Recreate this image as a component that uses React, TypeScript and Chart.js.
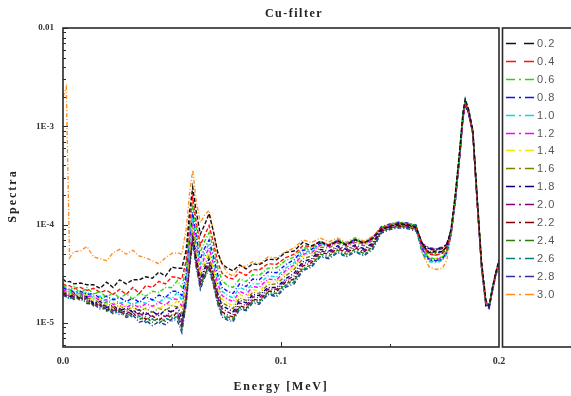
import React, { useEffect, useRef } from 'react';
import { Chart, registerables } from 'chart.js';

Chart.register(...registerables);

// ---- data (spectra values in units of 1E-5) ----
const UNIT = 1e-5;

const ENERGY = [
  0, 0.0015, 0.003, 0.005, 0.008, 0.011, 0.014, 0.017, 0.02, 0.023,
  0.026, 0.029, 0.032, 0.035, 0.038, 0.041, 0.044, 0.047, 0.05, 0.0525,
  0.0545, 0.0565, 0.058, 0.0595, 0.061, 0.063, 0.065, 0.067, 0.069, 0.071,
  0.073, 0.0755, 0.078, 0.081, 0.084, 0.087, 0.09, 0.094, 0.098, 0.102,
  0.106, 0.11, 0.114, 0.118, 0.122, 0.126, 0.13, 0.134, 0.138, 0.142,
  0.146, 0.15, 0.154, 0.158, 0.162, 0.165, 0.168, 0.171, 0.174, 0.176,
  0.178, 0.18, 0.182, 0.1835, 0.1845, 0.186, 0.188, 0.19, 0.192, 0.194,
  0.1955, 0.197, 0.1985, 0.2,
];

const S02 = [
  2.8, 2.6, 2.65, 2.5, 2.55, 2.45, 2.45, 2.25, 2.6, 2.3,
  2.75, 2.5, 2.75, 2.75, 2.95, 2.85, 3.3, 3.0, 3.7, 3.6,
  3.6, 5.5, 13, 24, 14, 8.0, 10, 13, 8.5, 5.2,
  4.0, 3.6, 3.4, 3.9, 3.55, 4.0, 3.9, 4.45, 4.4, 5.2,
  5.4, 6.6, 6.1, 6.7, 6.1, 6.8, 6.2, 7.0, 6.5, 7.2,
  9.0, 9.6, 10.2, 10.0, 9.4, 6.2, 5.2, 5.4, 5.3, 6.0,
  9.0, 21, 58, 140, 190, 150, 92, 19, 4.2, 1.7,
  1.5, 2.3, 3.2, 4.4,
];
const S04 = [
  2.5, 2.4, 2.4, 2.25, 2.3, 2.15, 2.25, 2.05, 2.15, 1.95,
  2.2, 1.95, 2.3, 2.0, 2.4, 2.3, 2.65, 2.5, 2.95, 2.9,
  2.8, 4.3, 10, 19, 11, 6.2, 7.8, 9.8, 6.6, 4.1,
  3.2, 2.9, 2.8, 3.3, 3.05, 3.5, 3.45, 4.0, 3.95, 4.6,
  5.0, 6.1, 6.0, 6.8, 6.2, 6.9, 6.3, 7.1, 6.5, 7.4,
  9.2, 9.9, 10.4, 10.1, 9.6, 6.0, 5.0, 4.9, 5.1, 5.6,
  8.5, 20, 55, 130, 175, 145, 88, 18, 4.0, 1.6,
  1.5, 2.2, 3.3, 4.2,
];
const S06 = [
  2.4, 2.3, 2.1, 2.35, 2.0, 2.3, 1.95, 2.1, 1.8, 2.05,
  1.78, 1.98, 1.75, 2.0, 1.88, 2.1, 2.05, 2.3, 2.3, 2.7,
  2.3, 3.7, 8.5, 16, 9.5, 5.3, 6.8, 8.3, 5.7, 3.6,
  2.7, 2.4, 2.3, 2.8, 2.65, 3.1, 3.05, 3.6, 3.65, 4.3,
  4.7, 5.8, 5.8, 6.7, 6.3, 7.0, 6.4, 7.2, 6.6, 7.5,
  9.4, 10.1, 10.5, 10.3, 9.8, 5.8, 4.6, 4.5, 4.7, 5.4,
  8.2, 19, 56, 135, 180, 148, 90, 18, 3.9, 1.6,
  1.5, 2.3, 3.1, 4.1,
];
const S08 = [
  2.3, 2.2, 2.2, 2.05, 2.1, 1.95, 2.0, 1.78, 1.88, 1.72,
  1.82, 1.65, 1.8, 1.62, 1.85, 1.72, 1.92, 1.82, 2.1, 2.1,
  1.9, 3.1, 7.2, 13.5, 8.0, 4.5, 5.8, 7.0, 4.8, 3.1,
  2.3, 2.1, 2.0, 2.5, 2.35, 2.8, 2.75, 3.3, 3.25, 3.9,
  4.4, 5.5, 5.6, 6.5, 6.2, 6.9, 6.3, 7.1, 6.5, 7.3,
  9.5, 10.2, 10.6, 10.4, 9.9, 5.6, 4.4, 4.3, 4.5, 5.2,
  8.0, 19, 52, 128, 170, 140, 86, 17, 3.8, 1.6,
  1.45, 2.2, 3.2, 4.0,
];
const S10 = [
  2.3, 2.2, 2.0, 2.2, 1.9, 2.08, 1.78, 1.88, 1.64, 1.78,
  1.58, 1.68, 1.52, 1.67, 1.58, 1.72, 1.62, 1.82, 1.78, 2.05,
  1.7, 2.8, 6.4, 12, 7.0, 4.0, 5.2, 6.4, 4.4, 2.8,
  2.1, 1.9, 1.8, 2.3, 2.15, 2.5, 2.5, 3.0, 2.95, 3.6,
  4.1, 5.2, 5.4, 6.4, 6.2, 7.0, 6.4, 7.2, 6.6, 7.4,
  9.3, 10.0, 10.4, 10.2, 9.7, 5.4, 4.2, 4.1, 4.3, 5.0,
  8.4, 20, 57, 140, 185, 150, 91, 19, 4.0, 1.7,
  1.5, 2.3, 3.3, 4.3,
];
const S12 = [
  2.2, 2.1, 2.1, 1.95, 2.02, 1.86, 1.88, 1.68, 1.72, 1.54,
  1.62, 1.44, 1.56, 1.43, 1.57, 1.48, 1.62, 1.52, 1.76, 1.74,
  1.5, 2.5, 5.8, 11, 6.4, 3.6, 4.7, 5.8, 4.0, 2.5,
  1.9, 1.75, 1.65, 2.1, 1.95, 2.35, 2.3, 2.8, 2.75, 3.4,
  3.9, 5.0, 5.2, 6.2, 6.0, 6.7, 6.1, 6.8, 6.3, 7.1,
  9.2, 9.9, 10.3, 10.1, 9.6, 5.5, 4.5, 4.4, 4.6, 5.3,
  8.0, 18, 52, 125, 168, 140, 85, 17, 3.8, 1.6,
  1.5, 2.2, 3.1, 4.1,
];
const S14 = [
  2.2, 2.1, 1.92, 2.08, 1.82, 1.98, 1.68, 1.77, 1.53, 1.62,
  1.44, 1.52, 1.39, 1.51, 1.36, 1.5, 1.39, 1.56, 1.49, 1.7,
  1.4, 2.3, 5.3, 10, 5.8, 3.3, 4.3, 5.3, 3.6, 2.3,
  1.75, 1.6, 1.5, 1.95, 1.82, 2.2, 2.1, 2.6, 2.65, 3.2,
  3.7, 4.8, 5.1, 6.2, 6.1, 6.8, 6.2, 6.9, 6.4, 7.2,
  9.4, 10.1, 10.5, 10.3, 9.8, 5.6, 4.6, 4.5, 4.7, 5.4,
  8.3, 19, 54, 132, 178, 146, 88, 18, 3.9, 1.6,
  1.5, 2.3, 3.2, 4.2,
];
const S16 = [
  2.1, 2.0, 2.02, 1.92, 1.97, 1.78, 1.77, 1.58, 1.61, 1.44,
  1.51, 1.34, 1.46, 1.32, 1.41, 1.29, 1.41, 1.34, 1.5, 1.45,
  1.25, 2.1, 4.8, 9.0, 5.2, 3.0, 3.9, 4.8, 3.3, 2.1,
  1.6, 1.5, 1.4, 1.8, 1.7, 2.05, 2.0, 2.45, 2.5, 3.0,
  3.5, 4.5, 4.8, 5.9, 5.8, 6.5, 5.9, 6.6, 6.1, 6.9,
  9.1, 9.8, 10.2, 10.0, 9.5, 5.8, 5.0, 4.9, 5.1, 5.7,
  8.1, 18, 53, 128, 172, 142, 86, 17, 3.8, 1.6,
  1.45, 2.2, 3.2, 4.1,
];
const S18 = [
  2.1, 2.0, 1.84, 2.02, 1.78, 1.87, 1.59, 1.66, 1.44, 1.51,
  1.34, 1.41, 1.29, 1.36, 1.22, 1.31, 1.19, 1.36, 1.29, 1.45,
  1.1, 1.95, 4.5, 8.5, 4.9, 2.8, 3.6, 4.5, 3.1, 2.0,
  1.5, 1.4, 1.3, 1.7, 1.6, 1.95, 1.9, 2.3, 2.3, 2.8,
  3.2, 4.2, 4.5, 5.6, 5.4, 6.1, 5.6, 6.2, 5.7, 6.5,
  8.9, 9.6, 10.0, 9.8, 9.3, 6.3, 5.7, 5.6, 5.8, 6.3,
  8.6, 18, 50, 122, 165, 137, 84, 17, 3.7, 1.5,
  1.45, 2.2, 3.1, 4.0,
];
const S20 = [
  2.0, 1.95, 1.96, 1.83, 1.92, 1.68, 1.66, 1.49, 1.51, 1.34,
  1.41, 1.24, 1.36, 1.19, 1.28, 1.14, 1.26, 1.16, 1.33, 1.25,
  1.0, 1.85, 4.2, 8.0, 4.6, 2.6, 3.4, 4.2, 2.9, 1.85,
  1.4, 1.3, 1.22, 1.6, 1.5, 1.85, 1.8, 2.2, 2.2, 2.7,
  3.0, 4.0, 4.3, 5.4, 5.2, 5.9, 5.4, 6.0, 5.5, 6.3,
  8.8, 9.5, 9.9, 9.7, 9.2, 6.4, 5.8, 5.7, 5.9, 6.4,
  8.7, 19, 53, 130, 175, 144, 87, 17, 3.8, 1.6,
  1.5, 2.2, 3.2, 4.1,
];
const S22 = [
  2.0, 1.9, 1.79, 1.97, 1.73, 1.82, 1.53, 1.56, 1.36, 1.44,
  1.26, 1.34, 1.2, 1.26, 1.09, 1.18, 1.06, 1.21, 1.14, 1.3,
  0.95, 1.75, 4.0, 7.5, 4.3, 2.5, 3.2, 3.9, 2.7, 1.75,
  1.3, 1.2, 1.15, 1.5, 1.42, 1.75, 1.7, 2.1, 2.1, 2.6,
  2.8, 3.8, 4.1, 5.2, 5.0, 5.7, 5.2, 5.8, 5.3, 6.1,
  8.6, 9.3, 9.7, 9.5, 9.0, 6.2, 5.6, 5.5, 5.7, 6.2,
  8.5, 18, 51, 125, 168, 139, 85, 17, 3.7, 1.5,
  1.45, 2.2, 3.1, 4.0,
];
const S24 = [
  1.95, 1.9, 1.92, 1.78, 1.87, 1.63, 1.61, 1.44, 1.46, 1.29,
  1.36, 1.19, 1.28, 1.09, 1.16, 1.02, 1.13, 1.04, 1.21, 1.15,
  0.9, 1.7, 3.8, 7.2, 4.1, 2.4, 3.1, 3.8, 2.6, 1.7,
  1.25, 1.15, 1.1, 1.45, 1.4, 1.7, 1.65, 2.05, 2.0, 2.5,
  2.7, 3.6, 3.9, 5.0, 4.8, 5.5, 5.0, 5.6, 5.1, 5.9,
  8.5, 9.2, 9.6, 9.4, 8.9, 5.9, 5.3, 5.2, 5.4, 6.0,
  8.4, 19, 55, 135, 182, 148, 89, 18, 3.9, 1.6,
  1.5, 2.3, 3.2, 4.2,
];
const S26 = [
  1.95, 1.85, 1.74, 1.92, 1.68, 1.77, 1.49, 1.51, 1.32, 1.38,
  1.21, 1.28, 1.14, 1.18, 1.01, 1.1, 0.99, 1.12, 1.05, 1.2,
  0.85, 1.6, 3.7, 7.0, 4.0, 2.3, 3.0, 3.7, 2.5, 1.6,
  1.2, 1.1, 1.07, 1.42, 1.36, 1.65, 1.6, 2.0, 1.9, 2.4,
  2.6, 3.5, 3.8, 4.8, 4.6, 5.3, 4.8, 5.4, 4.9, 5.7,
  8.4, 9.1, 9.5, 9.3, 8.8, 5.0, 4.3, 4.2, 4.4, 5.1,
  8.0, 18, 52, 128, 170, 140, 86, 17, 3.8, 1.6,
  1.45, 2.2, 3.1, 4.0,
];
const S28 = [
  1.9, 1.85, 1.86, 1.73, 1.82, 1.58, 1.56, 1.39, 1.41, 1.24,
  1.31, 1.14, 1.21, 1.02, 1.07, 0.94, 1.03, 0.96, 1.1, 1.05,
  0.8, 1.55, 3.5, 6.6, 3.8, 2.2, 2.9, 3.5, 2.4, 1.55,
  1.15, 1.07, 1.03, 1.38, 1.33, 1.6, 1.55, 1.95, 1.85, 2.3,
  2.5, 3.4, 3.7, 4.7, 4.5, 5.2, 4.7, 5.3, 4.8, 5.6,
  8.2, 8.9, 9.3, 9.1, 8.6, 5.8, 5.2, 5.1, 5.3, 5.9,
  8.1, 17, 50, 122, 165, 137, 84, 17, 3.7, 1.5,
  1.4, 2.1, 3.0, 3.9,
];
const S30 = [
  200, 250, 4.6, 5.3, 5.4, 6.0, 4.7, 4.5, 4.3, 5.2,
  5.6, 5.0, 5.5, 4.8, 4.6, 4.3, 4.0, 4.6, 5.1, 5.2,
  5.0, 9.0, 20, 36, 18, 10.5, 12.5, 14, 8.5, 5.0,
  4.0, 3.2, 3.0, 3.7, 3.8, 4.2, 4.0, 4.7, 4.6, 5.3,
  5.8, 7.0, 6.6, 7.3, 6.7, 7.3, 6.6, 7.4, 6.8, 7.6,
  9.2, 9.8, 10.1, 9.9, 9.3, 5.0, 3.7, 3.5, 3.6, 4.3,
  7.8, 18, 52, 128, 170, 142, 86, 17, 3.8, 1.6,
  1.5, 2.2, 3.2, 4.1,
];

const SERIES = [S02, S04, S06, S08, S10, S12, S14, S16, S18, S20, S22, S24, S26, S28, S30];
const SERIES_LABELS = ['0.2', '0.4', '0.6', '0.8', '1.0', '1.2', '1.4', '1.6', '1.8', '2.0', '2.2', '2.4', '2.6', '2.8', '3.0'];
const SERIES_COLORS = [
  '#111111', '#ff1010', '#20dd00', '#1010ff', '#00dddd', '#ff00ff', '#f0e800', '#808000',
  '#000080', '#800080', '#800000', '#2d7a10', '#008080', '#3030a0', '#ff9020',
];
const DASHED = ['0.2', '0.4'];

const Y_TICK_LABELS: Record<string, string> = { '-2': '0.01', '-3': '1E-3', '-4': '1E-4', '-5': '1E-5' };
const X_TICK_LABELS = ['0.0', '0.1', '0.2'];
const TITLE = 'Cu-filter';
const X_TITLE = 'Energy [MeV]';
const Y_TITLE = 'Spectra';

const SERIF = '"Liberation Serif", "DejaVu Serif", serif';
const SANS = '"Liberation Sans", Arial, sans-serif';

const decorPlugin = {
  id: 'decor',
  afterDraw(chart: any) {
    const { ctx, chartArea } = chart;
    const { left, right, top, bottom } = chartArea;
    const xs = chart.scales.x;
    const ys = chart.scales.y;
    ctx.save();

    // frame
    ctx.strokeStyle = '#2a2a2a';
    ctx.lineWidth = 1.6;
    ctx.setLineDash([]);
    ctx.strokeRect(left, top, right - left, bottom - top);

    // y ticks (inward)
    ctx.lineWidth = 1;
    ctx.beginPath();
    for (let d = -6; d <= -2; d++) {
      for (let m = 1; m <= 9; m++) {
        const v = m * Math.pow(10, d);
        if (v < ys.min * 0.999 || v > ys.max * 1.001) continue;
        const y = Math.round(ys.getPixelForValue(v)) + 0.5;
        const len = m === 1 ? 5 : 3;
        ctx.moveTo(left, y);
        ctx.lineTo(left + len, y);
      }
    }
    // x ticks (inward)
    [0.05, 0.1, 0.15].forEach((v) => {
      const x = Math.round(xs.getPixelForValue(v)) + 0.5;
      const len = Math.abs(v - 0.1) < 1e-9 ? 5 : 3;
      ctx.moveTo(x, bottom);
      ctx.lineTo(x, bottom - len);
    });
    ctx.stroke();

    // titles
    ctx.fillStyle = '#222';
    ctx.textAlign = 'center';
    ctx.textBaseline = 'middle';
    ctx.font = `bold 12px ${SERIF}`;
    (ctx as any).letterSpacing = '1.5px';
    ctx.fillText(TITLE, 294, 14);
    (ctx as any).letterSpacing = '1.8px';
    ctx.fillText(X_TITLE, 281, 387);
    ctx.save();
    ctx.translate(13, 196);
    ctx.rotate(-Math.PI / 2);
    (ctx as any).letterSpacing = '2px';
    ctx.fillText(Y_TITLE, 0, 0);
    ctx.restore();

    // legend box
    ctx.strokeStyle = '#2a2a2a';
    ctx.lineWidth = 1.6;
    ctx.strokeRect(502.5, top, 80, bottom - top);

    // legend entries
    (ctx as any).letterSpacing = '1px';
    ctx.font = `11px ${SANS}`;
    ctx.textAlign = 'left';
    chart.data.datasets.forEach((ds: any, i: number) => {
      const y = Math.round(43 + i * 17.9) + 0.5;
      ctx.strokeStyle = ds.borderColor;
      ctx.lineWidth = 1.4;
      ctx.setLineDash(DASHED.includes(ds.label) ? [10, 8] : [9, 4, 2, 4]);
      ctx.beginPath();
      ctx.moveTo(506, y);
      ctx.lineTo(535, y);
      ctx.stroke();
      ctx.fillStyle = '#555';
      ctx.fillText(ds.label, 537, y + 0.5);
    });
    ctx.restore();
  },
};

export default function App() {
  const ref = useRef<HTMLCanvasElement | null>(null);

  useEffect(() => {
    document.body.style.margin = '0';
    const canvas = ref.current;
    if (!canvas) return;

    const datasets = SERIES.map((s, i) => ({
      label: SERIES_LABELS[i],
      data: ENERGY.map((x, j) => ({ x, y: s[j] * UNIT })),
      borderColor: SERIES_COLORS[i],
      backgroundColor: SERIES_COLORS[i],
      borderWidth: 1.4,
      borderDash: DASHED.includes(SERIES_LABELS[i]) ? [4, 2] : [4, 2, 1, 2],
      pointRadius: 0,
      tension: 0,
      fill: false,
    }));

    const chart = new Chart(canvas, {
      type: 'line',
      data: { datasets },
      options: {
        responsive: false,
        animation: false,
        devicePixelRatio: 1,
        layout: { padding: { top: 28, right: 72, bottom: 0, left: 0 } },
        plugins: { legend: { display: false }, tooltip: { enabled: false }, title: { display: false } },
        scales: {
          x: {
            type: 'linear',
            min: 0,
            max: 0.2,
            grid: { display: false, drawTicks: false },
            border: { display: false },
            ticks: {
              stepSize: 0.1,
              padding: 8,
              color: '#333',
              font: { family: SERIF, size: 10, weight: 'bold' },
              callback: (v: any) => X_TICK_LABELS[Math.round(Number(v) / 0.1)] ?? '',
            },
            afterFit: (s: any) => { s.height = 49; },
          },
          y: {
            type: 'logarithmic',
            min: 5.7e-6,
            max: 0.01,
            grid: { display: false, drawTicks: false },
            border: { display: false },
            ticks: {
              autoSkip: false,
              padding: 9,
              color: '#333',
              font: { family: SERIF, size: 9, weight: 'bold' },
              callback: (v: any) => {
                const l = Math.log10(Number(v));
                const r = Math.round(l);
                return Math.abs(l - r) < 1e-6 ? (Y_TICK_LABELS[String(r)] ?? '') : '';
              },
            },
            afterFit: (s: any) => { s.width = 63; },
          },
        },
      },
      plugins: [decorPlugin],
    } as any);

    return () => chart.destroy();
  }, []);

  return (
    <div style={{ width: 571, height: 396, overflow: 'hidden', background: '#fff' }}>
      <canvas ref={ref} width={571} height={396} style={{ display: 'block' }} />
    </div>
  );
}
